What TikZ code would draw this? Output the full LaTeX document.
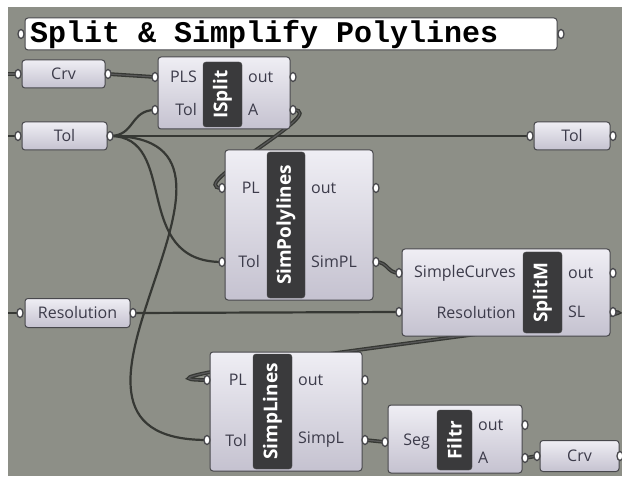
\documentclass[tikz,border=0pt]{standalone}
\usepackage{fontspec}
\setmainfont{Open Sans}
\newfontfamily\titlefont{Liberation Mono}
\usetikzlibrary{positioning,shapes.geometric}
\definecolor{gcanvas}{HTML}{8D8F87}
\definecolor{gbodytop}{HTML}{EFEEF4}
\definecolor{gbodybot}{HTML}{C5C2D0}
\definecolor{gedge}{HTML}{48484C}
\definecolor{gbarfill}{HTML}{3A3A3C}
\definecolor{gtext}{HTML}{3C3B4A}
\definecolor{gwire}{HTML}{363834}
\pgfdeclarelayer{canvas}
\pgfdeclarelayer{wires}
\pgfsetlayers{canvas,wires,main}
\tikzset{
  gbody/.style    = {draw=gedge, line width=1pt, rounded corners=3pt,
                     top color=gbodytop, bottom color=gbodybot, inner sep=0pt},
  gparam/.style   = {gbody, minimum height=28pt, text=gtext,
                     font=\fontsize{16}{16}\selectfont},
  gpanel/.style   = {draw=gedge, line width=1pt, rounded corners=3pt, fill=white},
  titletext/.style= {inner sep=0pt, font=\titlefont\bfseries\fontsize{30}{30}\selectfont},
  gbar/.style     = {draw=gray!60!black, fill=gbarfill, rounded corners=3pt, rotate=90,
                     inner sep=0pt, text=white, font=\bfseries\fontsize{19}{19}\selectfont},
  glabel/.style   = {text=gtext, inner sep=0pt, font=\fontsize{16}{16}\selectfont},
  grip/.style     = {ellipse, draw=gedge, fill=white, line width=1.3pt,
                     minimum width=6pt, minimum height=9pt, inner sep=0pt},
  wire/.style     = {draw=gwire, line width=2.2pt},
  listwire/.style = {draw=gwire, line width=1.3pt, double=gray!70!black, double distance=1.2pt},
}

\begin{document}
\begin{tikzpicture}[x=1pt,y=-1pt]
\useasboundingbox (0,0) rectangle (622,484);
\begin{pgfonlayer}{canvas}
\fill[white] (0,0) rectangle (622,484);
\fill[gcanvas] (8,7) rectangle (622,476);
\end{pgfonlayer}
% title panel
\node[gpanel, minimum width=532pt, minimum height=32pt] (title) at (291,34) {};
\node[titletext, anchor=west] (titlelab) at (30,35) {Split \& Simplify Polylines};
% parameters
\node[gparam, minimum width=83pt] (crvA) at (63.5,74) {Crv};
\node[gparam, minimum width=85pt] (tolA) at (64.5,136) {Tol};
\node[gparam, minimum width=76pt] (tolB) at (572,136) {Tol};
\node[gparam, minimum width=105pt, minimum height=29pt] (res) at (77.5,313) {Resolution};
\node[gparam, minimum width=79pt, minimum height=31pt] (crvB) at (579.5,456) {Crv};
% ISplit
\node[gbody, minimum width=132pt, minimum height=72pt] (isplit) at (224,93) {};
\node[gbar, minimum width=65pt, minimum height=39pt] (isplitbar) at (222.5,94.5) {ISplit};
\node[glabel, anchor=east] (isplitPLS) at (197,77) {PLS};
\node[glabel, anchor=east] (isplitTol) at (197,110) {Tol};
\node[glabel, anchor=west] (isplitOut) at (248,77) {out};
\node[glabel, anchor=west] (isplitA) at (248,110) {A};
% SimPolylines
\node[gbody, minimum width=148pt, minimum height=150pt] (simpoly) at (299,225) {};
\node[gbar, minimum width=146pt, minimum height=38pt] (simpolybar) at (286,225) {SimPolylines};
\node[glabel, anchor=east] (simpolyPL) at (260,188) {PL};
\node[glabel, anchor=east] (simpolyTol) at (260,262) {Tol};
\node[glabel, anchor=west] (simpolyOut) at (311,188) {out};
\node[glabel, anchor=west] (simpolySim) at (311,262) {SimPL};
% SplitM
\node[gbody, minimum width=208pt, minimum height=87pt] (splitm) at (506,292.5) {};
\node[gbar, minimum width=81pt, minimum height=39pt] (splitmbar) at (542.5,292.5) {SplitM};
\node[glabel, anchor=east] (splitmSC) at (516,273) {SimpleCurves};
\node[glabel, anchor=east] (splitmRes) at (516,312) {Resolution};
\node[glabel, anchor=west] (splitmOut) at (568,273) {out};
\node[glabel, anchor=west] (splitmSL) at (568,312) {SL};
% SimpLines
\node[gbody, minimum width=152pt, minimum height=119pt] (simpl) at (286,411.5) {};
\node[gbar, minimum width=115pt, minimum height=39pt] (simplbar) at (272.5,411.5) {SimpLines};
\node[glabel, anchor=east] (simplPL) at (247,380) {PL};
\node[glabel, anchor=east] (simplTol) at (247,440) {Tol};
\node[glabel, anchor=west] (simplOut) at (298,380) {out};
\node[glabel, anchor=west] (simplSim) at (298,440) {SimpL};
% Filtr
\node[gbody, minimum width=134pt, minimum height=68pt] (filtr) at (455,439) {};
\node[gbar, minimum width=60pt, minimum height=35pt] (filtrbar) at (454.5,440) {Filtr};
\node[glabel, anchor=east] (filtrSeg) at (430,442) {Seg};
\node[glabel, anchor=west] (filtrOut) at (478,425) {out};
\node[glabel, anchor=west] (filtrA) at (478,458) {A};
% grips
\foreach \g/\x/\y in {titleL/21/34, titleR/561/34, crvAl/18/74, crvAr/108/74,
    tolAl/18/136, tolAr/110/136, tolBl/530/136, tolBr/613/136,
    resl/20/313, resr/133/313, crvBl/537/456, crvBr/620/456,
    isPLS/155/77, isTol/155/110, isOut/293/77, isA/293/110,
    spPL/222/188, spTol/222/262, spOut/376/188, spSim/376/262,
    smSC/399/273, smRes/399/312, smOut/613/273, smSL/613/312,
    slPL/207/380, slTol/207/440, slOut/365/380, slSim/365/440,
    fSeg/385/442, fOut/525/425, fA/525/458}
  \node[grip] (\g) at (\x,\y) {};
\coordinate (edgeA) at (8,74);
\coordinate (edgeB) at (8,136);
\coordinate (edgeC) at (8,313);
% wires
\begin{pgfonlayer}{wires}
\draw[listwire] (edgeA) -- (crvAl.center);
\draw[listwire] (crvAr.center) -- (isPLS.center);
\draw[wire] (edgeB) -- (tolAl.center);
\draw[wire] (edgeC) -- (resl.center);
\draw[wire] (tolAr.center) -- (tolBl.center);
\draw[wire] (tolAr.center) .. controls +(25,0) and +(-25,0) .. (isTol.center);
\draw[wire] (tolAr.center) .. controls +(70,0) and +(-92,0) .. (spTol.center);
\draw[wire] (tolAr.center) .. controls +(190,0) and +(-207,0) .. (slTol.center);
\draw[wire] (resr.center) -- (smRes.center);
\draw[listwire] (isA.center) .. controls +(40,0) and +(-40,0) .. (spPL.center);
\draw[listwire] (spSim.center) .. controls +(12,0) and +(-12,0) .. (smSC.center);
\draw[listwire] (smSL.center) .. controls +(70,0) and +(-130,0) .. (slPL.center);
\draw[listwire] (slSim.center) -- (fSeg.center);
\draw[listwire] (fA.center) -- (crvBl.center);
\end{pgfonlayer}
\end{tikzpicture}
\end{document}
